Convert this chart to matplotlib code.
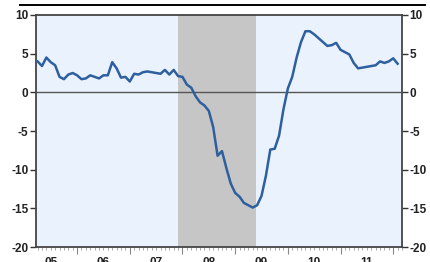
import matplotlib.pyplot as plt
import matplotlib.lines as mlines
import numpy as np

# monthly series, Apr 2005 .. Feb 2012 (% y/y)
start_year = 2005.25
values = [4.0, 3.4, 4.5, 3.9, 3.5, 2.0, 1.7, 2.3, 2.5, 2.2,
          1.7, 1.8, 2.2, 2.0, 1.8, 2.2, 2.2, 3.9, 3.1, 1.9,
          2.0, 1.4, 2.4, 2.3, 2.6, 2.7, 2.6, 2.5, 2.4, 2.9,
          2.3, 2.9, 2.1, 2.0, 1.0, 0.6, -0.5, -1.3, -1.7, -2.4,
          -4.5, -8.2, -7.6, -9.8, -11.8, -13.0, -13.5, -14.3, -14.6, -14.9,
          -14.6, -13.4, -10.8, -7.4, -7.3, -5.6, -2.2, 0.5, 2.0, 4.5,
          6.5, 7.9, 7.9, 7.5, 7.0, 6.5, 6.0, 6.1, 6.4, 5.5,
          5.2, 4.9, 3.8, 3.1, 3.2, 3.3, 3.4, 3.5, 4.0, 3.8,
          4.0, 4.4, 3.7]
recession = (2007.92, 2009.40)
year_labels = ['05', '06', '07', '08', '09', '10', '11']
yticks = [-20, -15, -10, -5, 0, 5, 10]

dates = start_year + np.arange(len(values)) / 12.0

plt.rcParams['font.family'] = ['Liberation Sans', 'DejaVu Sans']

fig = plt.figure(figsize=(4.3, 2.62), dpi=100)
ax = fig.add_axes([36/430, 1-247/262, (402-36)/430, (247-15)/262])
ax.set_facecolor('#eaf3fd')

ax.axvspan(recession[0], recession[1], color='#c6c6c6', lw=0, zorder=1)
ax.axhline(0, color='#555555', lw=1.0, zorder=2)
ax.plot(dates, values, color='#2e5f9e', lw=1.8, zorder=3)

ax.set_xlim(2005.22, 2012.15)
ax.set_ylim(-20, 10)
ax.set_yticks(yticks)
ax.set_yticklabels([str(t) for t in yticks])
ax.tick_params(axis='y', which='both', left=True, right=True, labelleft=True,
               labelright=True, length=4, width=1, color='#333333',
               labelsize=8.5, labelcolor='#222222', pad=1.5)

ax.set_xticks(np.arange(2006, 2013))
ax.set_xticks(np.arange(2005.25, 2012.2, 1/12.0), minor=True)
ax.set_xticklabels([])
ax.tick_params(axis='x', which='major', length=5, width=0.8, color='#888888')
ax.tick_params(axis='x', which='minor', length=2, width=0.6, color='#999999')
for lab, yr in zip(year_labels, range(2005, 2012)):
    ax.text(yr + 0.5, -0.045, lab, transform=ax.get_xaxis_transform(),
            ha='center', va='top', fontsize=8.5, color='#222222', fontweight='bold')

for side in ['left', 'right', 'top', 'bottom']:
    ax.spines[side].set_color('#444444')
    ax.spines[side].set_linewidth(1.3)

for lab in ax.get_yticklabels():
    lab.set_fontweight('bold')

fig.add_artist(mlines.Line2D([20/430, 425/430], [1-5/262, 1-5/262],
                             color='black', lw=1.4, transform=fig.transFigure))

fig.savefig('out.png', dpi=100)
